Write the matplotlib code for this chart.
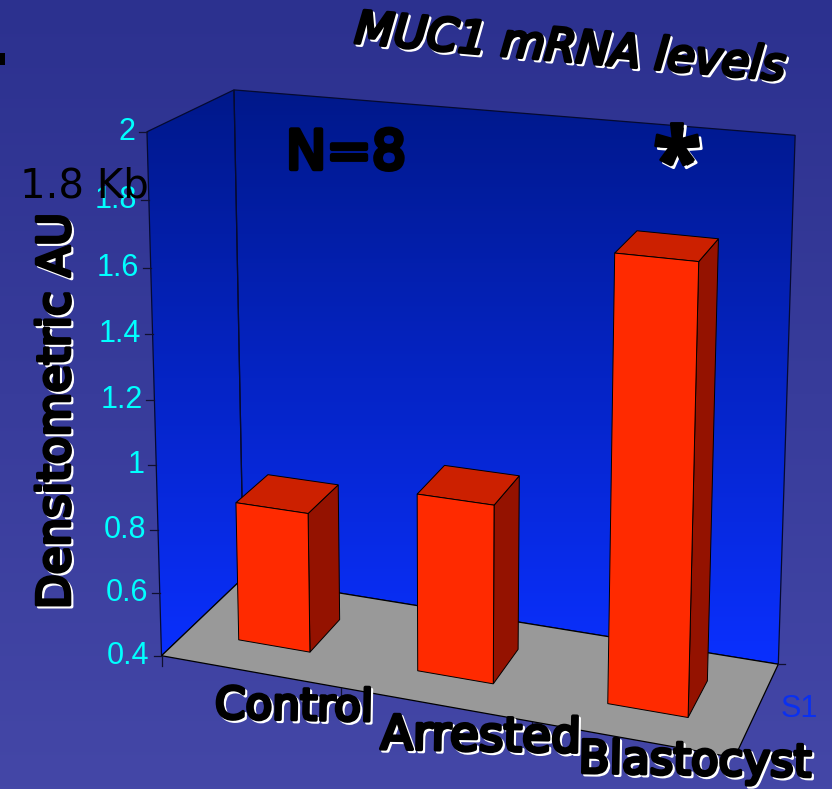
import numpy as np
import matplotlib
matplotlib.use("Agg")
import matplotlib.pyplot as plt
import matplotlib.patheffects as pe
from matplotlib.patches import Polygon

# Chart data
categories = ["Control", "Arrested", "Blastocyst"]
values = [0.84, 0.95, 1.73]
y_ticks = [0.4, 0.6, 0.8, 1, 1.2, 1.4, 1.6, 1.8, 2]
y_tick_labels = ["0.4", "0.6", "0.8", "1", "1.2", "1.4", "1.6", "1.8", "2"]
series_name = "S1"

Y_MIN, Y_MAX = 0.4, 2.0
BAR_W = 0.135
DEPTH_FRONT, DEPTH_BACK = 0.3, 0.7

# Box corners on screen: (across, up, depth) -> pixel, solved as one projective camera
box_corners = [
    ((0, 0, 0), (162, 657)),
    ((0, 1, 0), (146, 132)),
    ((0, 0, 1), (243, 576)),
    ((0, 1, 1), (235, 90)),
    ((1, 0, 1), (778, 666)),
    ((1, 1, 1), (795, 135)),
    ((1, 0, 0), (735, 756)),
]


def solve_camera(pairs):
    rows, rhs = [], []
    for (a, b, c), (px, py) in pairs:
        rows.append([a, b, c, 1, 0, 0, 0, 0, -px * a, -px * b, -px * c])
        rhs.append(px)
        rows.append([0, 0, 0, 0, a, b, c, 1, -py * a, -py * b, -py * c])
        rhs.append(py)
    sol = np.linalg.lstsq(np.array(rows, float), np.array(rhs, float), rcond=None)[0]
    return np.append(sol, 1.0).reshape(3, 4)


CAM = solve_camera(box_corners)


def proj(u, val, w):
    v = (val - Y_MIN) / (Y_MAX - Y_MIN)
    p = CAM @ np.array([u, v, w, 1.0])
    return p[0] / p[2], p[1] / p[2]


def comic(x, y, s, size, rot=0, style="normal", shadow=(1.5, -1.5), family="DejaVu Sans",
          weight="normal", stroke=2.6):
    # black rounded lettering with a white drop shadow
    t = ax.text(x, y, s, fontsize=size, rotation=rot, style=style, color="black",
                family=family, weight=weight, ha="center", va="center",
                rotation_mode="anchor", zorder=10)
    t.set_path_effects([
        pe.Stroke(linewidth=stroke, foreground="white", offset=shadow, joinstyle="round"),
        pe.Stroke(linewidth=stroke, foreground="black", joinstyle="round"),
        pe.Normal(),
    ])
    return t


fig = plt.figure(figsize=(8.32, 7.89), dpi=100)
ax = fig.add_axes([0, 0, 1, 1])
ax.set_xlim(0, 832)
ax.set_ylim(789, 0)
ax.axis("off")

# Slide background
bg_top = np.array([44, 49, 143]) / 255
bg_bot = np.array([68, 71, 167]) / 255
t = np.linspace(0, 1, 256)[:, None, None]
ax.imshow(bg_top + (bg_bot - bg_top) * t, extent=(0, 832, 789, 0), aspect="auto", zorder=0)

# Walls share one vertical gradient
wall_top = np.array([0, 24, 138]) / 255
wall_bot = np.array([10, 48, 255]) / 255
grad = wall_top + (wall_bot - wall_top) * t
wall_polys = [
    [proj(0, Y_MIN, 0), proj(0, Y_MAX, 0), proj(0, Y_MAX, 1), proj(0, Y_MIN, 1)],
    [proj(0, Y_MIN, 1), proj(0, Y_MAX, 1), proj(1, Y_MAX, 1), proj(1, Y_MIN, 1)],
]
for pts in wall_polys:
    im = ax.imshow(grad, extent=(0, 832, 666, 90), aspect="auto", zorder=1)
    outline = Polygon(pts, closed=True, fc="none", ec="#050a30", lw=0.9, zorder=2)
    ax.add_patch(outline)
    im.set_clip_path(outline)
ax.set_xlim(0, 832)
ax.set_ylim(789, 0)

# Floor
ax.add_patch(Polygon([proj(0, Y_MIN, 0), proj(1, Y_MIN, 0), proj(1, Y_MIN, 1), proj(0, Y_MIN, 1)],
                     closed=True, fc="#999999", ec="black", lw=0.9, zorder=3))

# Bars
n = len(categories)
for i, val in enumerate(values):
    c = (i + 0.5) / n
    u0, u1 = c - BAR_W / 2, c + BAR_W / 2
    w0, w1 = DEPTH_FRONT, DEPTH_BACK
    side = [proj(u1, Y_MIN, w0), proj(u1, val, w0), proj(u1, val, w1), proj(u1, Y_MIN, w1)]
    top = [proj(u0, val, w0), proj(u1, val, w0), proj(u1, val, w1), proj(u0, val, w1)]
    front = [proj(u0, Y_MIN, w0), proj(u0, val, w0), proj(u1, val, w0), proj(u1, Y_MIN, w0)]
    ax.add_patch(Polygon(side, closed=True, fc="#941200", ec="black", lw=0.7, zorder=4))
    ax.add_patch(Polygon(top, closed=True, fc="#CC2000", ec="black", lw=0.7, zorder=4))
    ax.add_patch(Polygon(front, closed=True, fc="#FF2A00", ec="black", lw=0.7, zorder=4))

# Value axis ticks and labels
for val, lab in zip(y_ticks, y_tick_labels):
    x, y = proj(0, val, 0)
    ax.plot([x - 8, x], [y, y], color="#101030", lw=0.9, zorder=5)
    ax.text(x - 12, y, lab, color="#00FFFF", fontsize=22, family="Liberation Sans",
            ha="right", va="center", zorder=6)

# Category ticks along the front edge and the small ones at the corners
for u in [0, 1 / 3, 2 / 3]:
    x, y = proj(u, Y_MIN, 0)
    ax.plot([x, x], [y, y + 10], color="#101030", lw=0.9, zorder=5)
x, y = proj(1, Y_MIN, 1)
ax.plot([x, x + 7], [y, y], color="#101030", lw=0.9, zorder=5)

# Text
comic(570, 49, "MUC1 mRNA levels", 32.5, rot=-5, style="oblique")
comic(294, 707, categories[0], 31.5, rot=-1)
comic(481, 738, categories[1], 34, rot=-1)
comic(695, 762, categories[2], 32.5, rot=-1)
comic(57, 411, "Densitometric AU", 32.5, rot=90)
ax.text(84, 186, "1.8 Kb", color="black", fontsize=29, family="DejaVu Sans", ha="center", va="center", zorder=7)
t_n = ax.text(346, 154, "N=8", color="black", fontsize=39, family="DejaVu Sans",
              ha="center", va="center", zorder=7)
t_n.set_path_effects([pe.Stroke(linewidth=3.2, foreground="black", joinstyle="round"), pe.Normal()])
comic(677, 168, "*", 64, family="Open Sans", weight="bold", stroke=2.0, shadow=(2, -2))
ax.text(799, 709, series_name, color="#0A30F0", fontsize=22, family="Liberation Sans",
        ha="center", va="center", zorder=6)

# Stray mark at the left edge of the slide
ax.add_patch(Polygon([(0, 53), (5, 53), (5, 65), (0, 65)], closed=True, fc="black", ec="none", zorder=7))

fig.savefig("out.png", dpi=100)
